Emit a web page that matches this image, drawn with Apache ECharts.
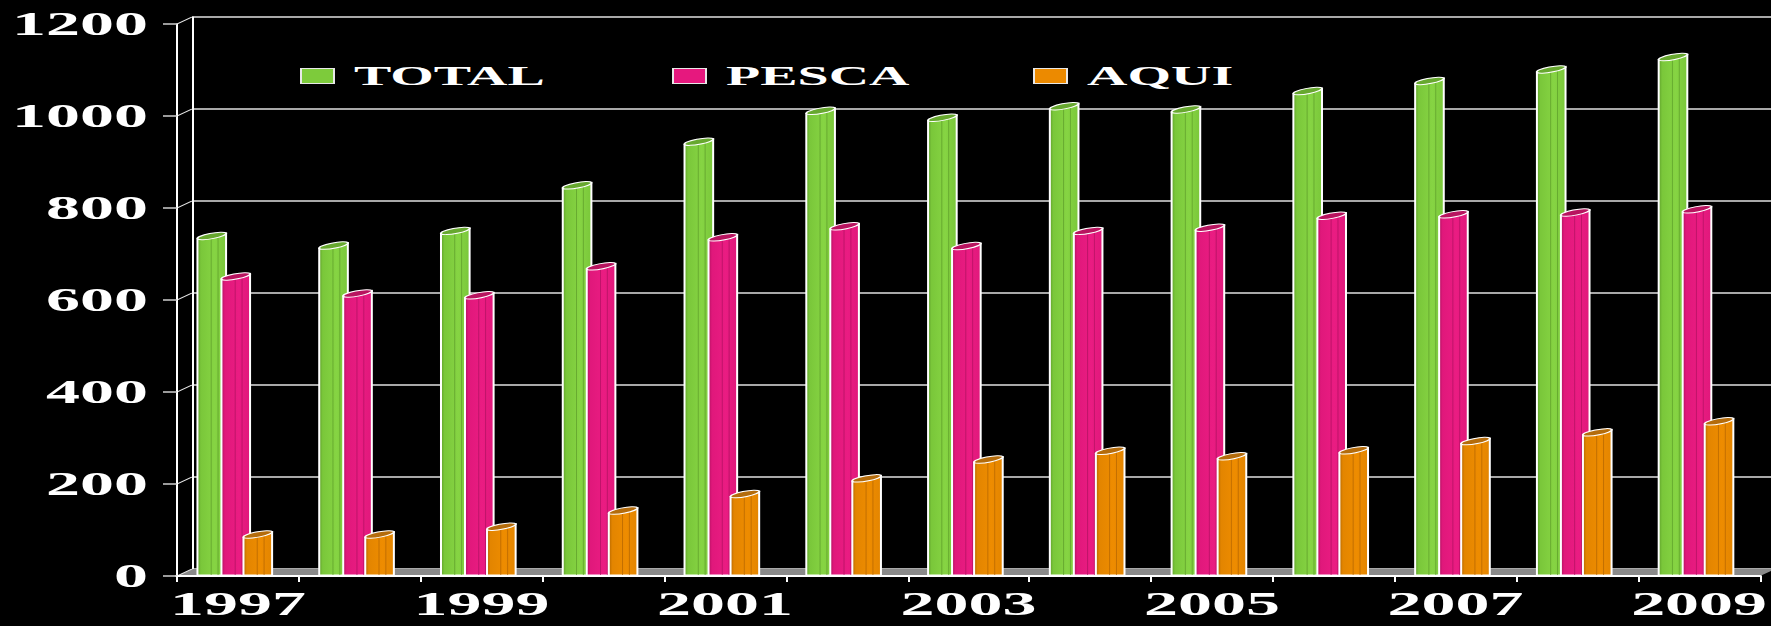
<!DOCTYPE html>
<html>
<head>
<meta charset="utf-8">
<script src="https://cdn.jsdelivr.net/npm/echarts@6/dist/echarts.min.js"></script>
<style>
  html, body { margin: 0; padding: 0; background: #000; overflow: hidden; }
  /* The chart is laid out at half width and stretched 2x horizontally,
     giving the wide, flat look of the lettering and the 3D columns. */
  #chart { width: 885.5px; height: 626px; transform: scaleX(2); transform-origin: 0 0; }
</style>
</head>
<body>
<div id="chart"></div>
<script>
// Fish production by year (thousand tonnes)
const years = ['1997', '1998', '1999', '2000', '2001', '2002', '2003', '2004', '2005', '2006', '2007', '2008', '2009'];
const total = [736, 715, 747, 846, 941, 1008, 993, 1018, 1011, 1051, 1073, 1098, 1125];
const pesca = [648, 611, 607, 670, 733, 757, 714, 747, 754, 780, 783, 787, 794];
const aqui  = [87, 87, 104, 139, 175, 209, 250, 269, 257, 270, 290, 309, 333];
const yTicks = [0, 200, 400, 600, 800, 1000, 1200];

// depth of the pseudo-3D box (back wall offset)
const DX = 7.5, DY = 7;
const FONT = "'Liberation Serif', 'Times New Roman', serif";

const chart = echarts.init(document.getElementById('chart'), null, { renderer: 'svg', width: 885.5, height: 626 });

// a column drawn as a flat cylinder: body with stripes and a tilted elliptic top
function column(slot, color, light, dark, topColor) {
  return function (params, api) {
    const idx = api.value(0);
    const val = api.value(1);
    const top = api.coord([idx, val]);
    const baseY = api.coord([idx, 0])[1] - 1;
    const band = api.size([1, 0])[0];
    const w = band * 0.235;
    const x0 = top[0] + band * slot;
    const rot = 0.38;
    const rx = (w / 2) / Math.cos(rot);
    const ry = 2.6;
    const cx = x0 + w / 2;
    const cy = top[1] - 1.5;
    const s = (w / 2) * Math.tan(rot);
    const fill = new echarts.graphic.LinearGradient(0, 0, 1, 0, [
      { offset: 0, color: dark },
      { offset: 0.12, color: color },
      { offset: 0.6, color: light },
      { offset: 1, color: color }
    ]);
    return {
      type: 'group',
      children: [
        {
          type: 'polygon',
          shape: { points: [[x0, baseY], [x0, cy + s], [x0 + w, cy - s], [x0 + w, baseY]] },
          style: { fill: fill, stroke: '#fff', lineWidth: 1 }
        },
        {
          type: 'line',
          shape: { x1: x0 + w * 0.48, y1: cy, x2: x0 + w * 0.48, y2: baseY },
          style: { stroke: dark, lineWidth: 0.5 }
        },
        {
          type: 'line',
          shape: { x1: x0 + w * 0.72, y1: cy - s * 0.4, x2: x0 + w * 0.72, y2: baseY },
          style: { stroke: dark, lineWidth: 0.5 }
        },
        {
          type: 'ellipse',
          x: cx, y: cy, rotation: rot,
          shape: { cx: 0, cy: 0, rx: rx, ry: ry },
          style: { fill: topColor, stroke: '#fff', lineWidth: 1 }
        }
      ]
    };
  };
}

// side edges of the box: diagonals from the front axis ticks to the back wall, plus the floor
function boxEdges(params, api) {
  const cs = params.coordSys;
  const v = api.value(1);
  const y = api.coord([0, v])[1];
  const x = cs.x;
  const children = [{
    type: 'line',
    shape: { x1: x, y1: y, x2: x + DX, y2: y - DY },
    style: { stroke: '#e6e6e6', lineWidth: 1 }
  }];
  if (v === 0) {
    children.unshift({
      type: 'polygon',
      shape: { points: [[x, y], [x + cs.width, y], [x + cs.width + DX, y - DY], [x + DX, y - DY]] },
      style: { fill: '#8a8a8a' }
    });
  }
  return { type: 'group', children: children };
}

const axisFont = { color: '#fff', fontFamily: FONT, fontWeight: 'bold', fontSize: 34 };
const legendBase = {
  top: 62, padding: 0, itemWidth: 16.5, itemHeight: 15, icon: 'rect',
  itemStyle: { borderColor: '#e8e8e8', borderWidth: 1 },
  textStyle: { color: '#fff', fontFamily: FONT, fontWeight: 'bold', fontSize: 28, padding: [0, 0, 0, 5] }
};

chart.setOption({
  backgroundColor: '#000',
  animation: false,
  legend: [
    Object.assign({ left: 150, data: ['TOTAL'] }, legendBase),
    Object.assign({ left: 336, data: ['PESCA'] }, legendBase),
    Object.assign({ left: 516.5, data: ['AQUI'] }, legendBase)
  ],
  grid: [
    { left: 88.5, right: 5.5, top: 24, bottom: 50, outerBoundsMode: 'none', containLabel: false },
    { left: 96, right: 0, top: 17, bottom: 57, outerBoundsMode: 'none', containLabel: false }
  ],
  xAxis: [
    {
      gridIndex: 0, type: 'category', data: years, z: 3,
      axisLine: { show: true, lineStyle: { color: '#fff', width: 2 } },
      axisTick: { show: true, interval: 0, length: 6, lineStyle: { color: '#fff', width: 1 } },
      axisLabel: Object.assign({ interval: 1, margin: 11 }, axisFont),
      splitLine: { show: false }
    },
    { gridIndex: 1, type: 'category', data: years, show: false }
  ],
  yAxis: [
    {
      gridIndex: 0, type: 'value', min: 0, max: 1200, interval: 200, z: 3,
      axisLine: { show: true, lineStyle: { color: '#fff', width: 1 } },
      axisTick: { show: true, length: 7, lineStyle: { color: '#cfcfcf', width: 1.5 } },
      axisLabel: Object.assign({ margin: 14.5, formatter: v => String(v) }, axisFont),
      splitLine: { show: false }
    },
    {
      gridIndex: 1, type: 'value', min: 0, max: 1200, interval: 200,
      axisLine: { show: true, lineStyle: { color: '#fff', width: 1 } },
      axisTick: { show: false },
      axisLabel: { show: false },
      splitLine: { show: true, lineStyle: { color: '#e0e0e0', width: 1.5 } }
    }
  ],
  series: [
    {
      name: 'box', type: 'custom', xAxisIndex: 0, yAxisIndex: 0, z: 1, silent: true,
      data: yTicks.map(v => [0, v]),
      renderItem: boxEdges
    },
    {
      name: 'TOTAL', type: 'custom', xAxisIndex: 0, yAxisIndex: 0,
      itemStyle: { color: '#7dcb3b' },
      data: total.map((v, i) => [i, v]),
      renderItem: column(-0.332, '#7ac73a', '#86d443', '#5f9f2b', '#67a82f')
    },
    {
      name: 'PESCA', type: 'custom', xAxisIndex: 0, yAxisIndex: 0,
      itemStyle: { color: '#e6187e' },
      data: pesca.map((v, i) => [i, v]),
      renderItem: column(-0.135, '#e0187b', '#ea1c82', '#b11161', '#b8145f')
    },
    {
      name: 'AQUI', type: 'custom', xAxisIndex: 0, yAxisIndex: 0,
      itemStyle: { color: '#ec8a00' },
      data: aqui.map((v, i) => [i, v]),
      renderItem: column(0.046, '#e38500', '#ee8c00', '#b56700', '#b46c0c')
    }
  ]
});
</script>
</body>
</html>
